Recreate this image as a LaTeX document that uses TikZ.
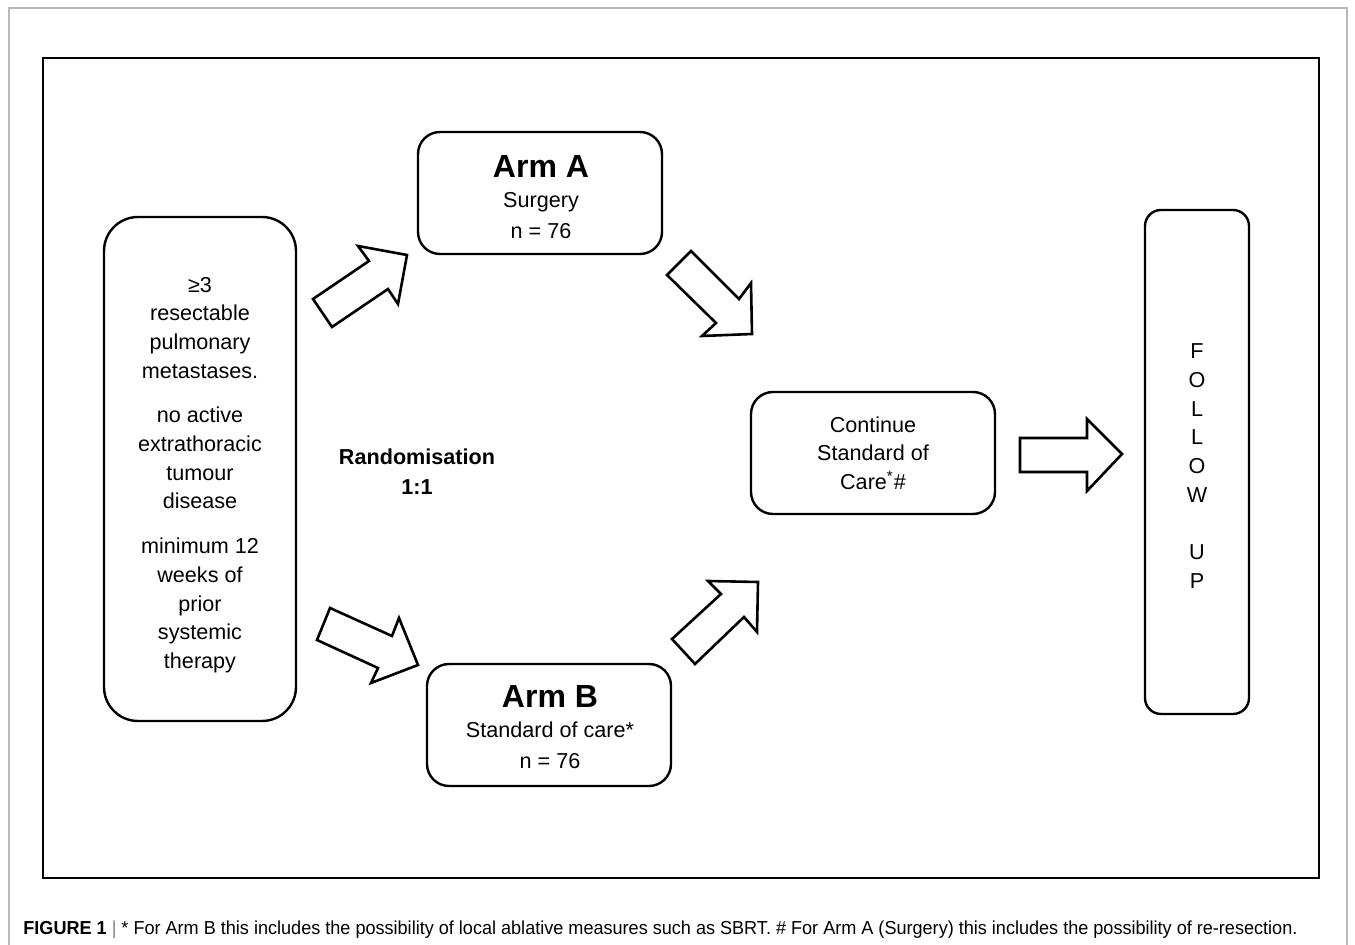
\documentclass[tikz,border=0pt]{standalone}
\usepackage{fontspec}
\setmainfont{Liberation Sans}
\usepackage{graphicx}
\usetikzlibrary{arrows.meta}

\tikzset{
  box/.style={draw, line width=1.2pt},
  armbox/.style={box, rounded corners=11pt, minimum width=122pt, minimum height=61pt},
  boxtext/.style={align=center, font=\fontsize{10.8}{14.35}\selectfont},
  armtext/.style={align=center, font=\fontsize{10.8}{15.2}\selectfont},
  blockarrow/.style={draw, line width=1.3pt, line join=miter},
}
\newcommand{\armtitle}[1]{{\fontsize{16}{18}\selectfont\bfseries #1}}

\begin{document}
\begin{tikzpicture}[x=0.5pt, y=-0.5pt]
\useasboundingbox (0,0) rectangle (1355,945);
\draw[gray!55, line width=0.6pt] (9,945) -- (9,8) -- (1347,8) -- (1347,945);
\draw[line width=1pt] (43,58) rectangle (1319,878);
% inclusion criteria
\node[box, rounded corners=17pt, minimum width=96pt, minimum height=252pt] (criteria) at (200,469) {};
\node[boxtext] (criteriatext) at (200,475)
	{≥3\\resectable\\pulmonary\\metastases.\\[8pt]no active\\extrathoracic\\tumour\\disease\\[8pt]minimum 12\\weeks of\\prior\\systemic\\therapy};
% arms
\node[armbox] (armA) at (540,193) {};
\node[armtext] (armAtext) at (541,197) {\armtitle{Arm A}\\Surgery\\n = 76};
\node[armbox] (armB) at (549,725) {};
\node[armtext] (armBtext) at (550,727) {\armtitle{Arm B}\\Standard of care*\\n = 76};
% continue and follow up
\node[box, rounded corners=11pt, minimum width=122pt, minimum height=61pt, boxtext] (soc) at (873,453)
	{Continue\\Standard of\\Care\textsuperscript{*}\#};
\node[box, rounded corners=8pt, minimum width=52pt, minimum height=252pt] (follow) at (1197,462) {};
\node[boxtext] (followtext) at (1197,466) {F\\O\\L\\L\\O\\W\\ \\U\\P};
\node[align=center, font=\fontsize{10.8}{15}\selectfont\bfseries] (rand) at (417,472) {Randomisation\\1:1};
% block arrows
\draw[blockarrow] (313,299) -- (369,261) -- (358,246) -- (407,255) -- (398,304) -- (388,289) -- (332,327) -- cycle;
\draw[blockarrow] (691,251) -- (739,299) -- (751,283) -- (752,334) -- (702,336) -- (716,323) -- (667,275) -- cycle;
\draw[blockarrow] (330,608) -- (392,636) -- (399,618) -- (418,665) -- (371,683) -- (378,668) -- (317,640) -- cycle;
\draw[blockarrow] (672,639) -- (721,594) -- (708,581) -- (758,582) -- (757,632) -- (744,617) -- (695,664) -- cycle;
\draw[blockarrow] (1020,438) -- (1087,438) -- (1087,419) -- (1122,454) -- (1087,491) -- (1087,472) -- (1020,472) -- cycle;
% caption
\node[anchor=west, inner sep=0pt, font=\fontsize{9.4}{11}\selectfont] (caption) at (23,930)
	{\resizebox{637pt}{\height}{\textbf{FIGURE 1} {\color{gray}|} * For Arm B this includes the possibility of local ablative measures such as SBRT. \# For Arm A (Surgery) this includes the possibility of re-resection.}};
\end{tikzpicture}
\end{document}
